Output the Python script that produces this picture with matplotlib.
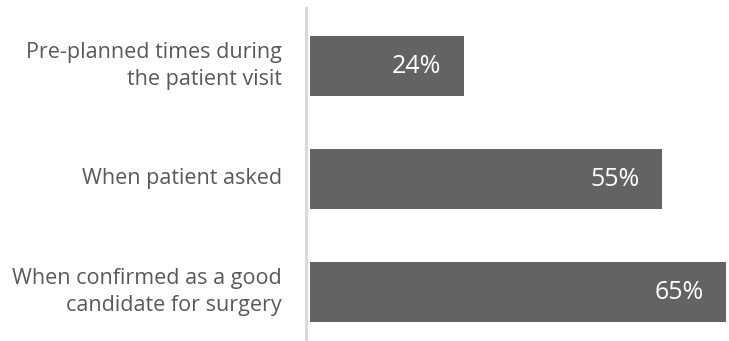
import matplotlib
matplotlib.use("Agg")
import matplotlib.pyplot as plt

# Survey responses: when the topic was raised with the patient
categories = [
    "Pre-planned times during\nthe patient visit",
    "When patient asked",
    "When confirmed as a good\ncandidate for surgery",
]
values = [24, 55, 65]
value_labels = ["24%", "55%", "65%"]

W, H, DPI = 729, 341, 100
fig = plt.figure(figsize=(W / DPI, H / DPI), dpi=DPI)
fig.patch.set_facecolor("white")

left_px, top_px = 310, 8
ax = fig.add_axes([left_px / W, 0, (W - left_px) / W, (H - top_px) / H])

bar_color = "#636363"
text_color = "#595959"
font = "Open Sans"

ypos = list(range(len(categories)))
ax.barh(ypos, values, height=0.527, color=bar_color, edgecolor="none")

ax.set_xlim(0, 65.5)
ax.set_ylim(2.434, -0.513)

# value labels inside the bar ends
for y, v, lab in zip(ypos, values, value_labels):
    ax.annotate(lab, xy=(v, y), xytext=(-16, -0.5), textcoords="offset points",
                ha="right", va="center", color="white", fontsize=18,
                family=font)

# category labels to the left of the axis line
for y, cat in zip(ypos, categories):
    ax.annotate(cat, xy=(0, y), xycoords=("axes fraction", "data"),
                xytext=(-20.2, 0), textcoords="offset points",
                ha="right", va="center", multialignment="right",
                color=text_color, fontsize=15.5, family=font,
                linespacing=1.38, annotation_clip=False)

ax.set_xticks([])
ax.set_yticks([])

for s in ("top", "right", "bottom"):
    ax.spines[s].set_visible(False)
ax.spines["left"].set_position(("outward", 2.9))
ax.spines["left"].set_color("#d9d9d9")
ax.spines["left"].set_linewidth(2.2)

fig.savefig("out.png", dpi=DPI, facecolor="white")
